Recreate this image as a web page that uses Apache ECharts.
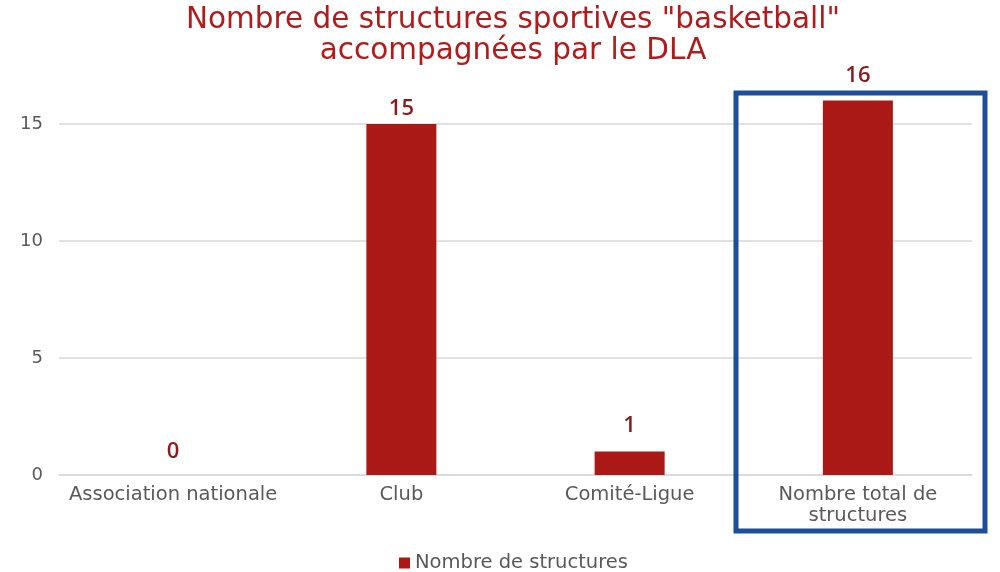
<!DOCTYPE html>
<html>
<head>
<meta charset="utf-8">
<script src="https://cdn.jsdelivr.net/npm/echarts@6/dist/echarts.min.js"></script>
<style>
  html, body { margin: 0; padding: 0; background: #fff; }
  #chart { width: 1000px; height: 572px; }
</style>
</head>
<body>
<div id="chart"></div>
<script>
var categories = ['Association nationale', 'Club', 'Comité-Ligue', 'Nombre total de\nstructures'];
var structures = [0, 15, 1, 16];
var seriesName = 'Nombre de structures';
// label gaps above each bar, as placed in the original
var labelGaps = [12, 4, 15, 14];

var chart = echarts.init(document.getElementById('chart'));
chart.setOption({
  animation: false,
  textStyle: { fontFamily: 'DejaVu Sans' },
  title: {
    text: 'Nombre de structures sportives "basketball"\naccompagnées par le DLA',
    left: 508,
    textAlign: 'center',
    top: 0,
    textStyle: {
      color: '#b01c1c',
      fontFamily: 'DejaVu Sans',
      fontWeight: 'normal',
      fontSize: 29.5,
      lineHeight: 31
    }
  },
  legend: {
    top: 548,
    left: 394,
    itemWidth: 11,
    itemHeight: 11,
    itemGap: 3,
    icon: 'rect',
    textStyle: { color: '#595959', fontSize: 19.5, fontFamily: 'DejaVu Sans' },
    data: [seriesName]
  },
  grid: { left: 59, right: 28, top: 100.6, bottom: 97 },
  xAxis: {
    type: 'category',
    data: categories,
    axisTick: { show: false },
    axisLine: { lineStyle: { color: '#d9d9d9', width: 1.5 } },
    axisLabel: {
      interval: 0,
      color: '#595959',
      fontSize: 19.5,
      fontFamily: 'DejaVu Sans',
      margin: 9,
      lineHeight: 21
    }
  },
  yAxis: {
    type: 'value',
    min: 0,
    max: 16,
    interval: 5,
    axisLine: { show: false },
    axisTick: { show: false },
    axisLabel: { color: '#595959', fontSize: 18, fontFamily: 'DejaVu Sans', margin: 16, showMaxLabel: false },
    splitLine: { showMaxLine: false, lineStyle: { color: '#d9d9d9', width: 1.5 } }
  },
  series: [{
    name: seriesName,
    type: 'bar',
    data: structures.map(function (v, i) {
      return { value: v, label: { distance: labelGaps[i] } };
    }),
    barWidth: 70,
    itemStyle: { color: '#aa1916' },
    label: {
      show: true,
      position: 'top',
      color: '#8b1a1a',
      fontSize: 22,
      fontWeight: 600,
      fontFamily: 'Open Sans'
    }
  }],
  graphic: [{
    type: 'rect',
    shape: { x: 736, y: 93, width: 249, height: 438 },
    style: { fill: null, stroke: '#1f4e99', lineWidth: 5 },
    z: 10
  }]
});
</script>
</body>
</html>
